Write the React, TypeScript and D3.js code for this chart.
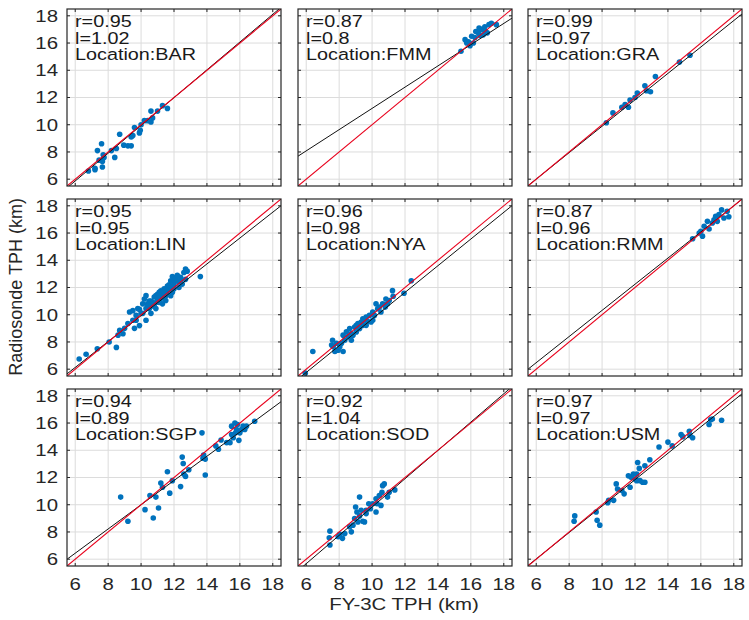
import React, { useRef, useEffect } from 'react';
import * as d3 from 'd3';

// station labels, r and slope text as printed on the figure
const stations = ['BAR', 'FMM', 'GRA', 'LIN', 'NYA', 'RMM', 'SGP', 'SOD', 'USM'];
const rText = ['0.95', '0.87', '0.99', '0.95', '0.96', '0.87', '0.94', '0.92', '0.97'];
const lText = ['1.02', '0.8', '0.97', '0.95', '0.98', '0.96', '0.89', '1.04', '0.97'];

// fitted line (black) per station: slope, intercept
const fitSlope = [1.02, 0.78, 0.97, 0.95, 0.98, 0.96, 0.89, 1.04, 0.97];
const fitIntercept = [-0.25, 3.4, 0.19, 0.43, -0.12, 0.72, 1.1, -0.57, 0.2];

const ticks = [6, 8, 10, 12, 14, 16, 18];

// FY-3C TPH (x) vs radiosonde TPH (y), km
const BAR: [number, number][] = [
  [6.8, 6.6], [7.2, 6.7], [7.2, 6.8], [7.35, 8.1], [7.6, 8.6], [7.65, 6.9], [7.7, 7.8], [7.65, 7.3],
  [7.75, 7.6], [8.4, 7.6], [8.5, 8.25], [8.7, 9.3], [8.95, 8.5], [9.2, 8.45], [9.4, 8.45], [9.5, 9.2],
  [9.6, 9.8], [9.9, 9.4], [9.95, 9.6], [10.0, 10.0], [10.2, 10.3], [10.4, 10.3], [10.6, 11.0], [10.6, 10.2],
  [10.7, 10.5], [11.0, 11.0], [11.3, 11.4], [11.6, 11.2], [9.4, 9.1], [8.2, 8.1], [7.45, 7.4],
];
const FMM: [number, number][] = [
  [15.4, 15.4], [15.65, 16.25], [15.85, 16.1], [15.95, 15.8], [16.05, 16.5], [16.25, 16.4], [16.3, 16.85],
  [16.45, 16.75], [16.55, 16.55], [16.65, 17.0], [16.75, 16.6], [16.85, 17.2], [17.0, 16.75], [17.1, 17.35],
  [17.25, 17.45], [17.55, 17.35], [16.15, 16.0], [15.75, 16.0], [16.5, 17.1], [16.9, 16.85],
];
const GRA: [number, number][] = [
  [10.26, 10.15], [10.66, 10.87], [11.2, 11.28], [11.4, 11.48], [11.6, 11.28], [11.7, 11.82], [12.0, 12.0],
  [12.14, 12.33], [12.6, 12.86], [12.7, 12.5], [12.94, 12.42], [13.24, 13.54], [14.7, 14.6], [15.34, 15.1],
];
const LIN: [number, number][] = [
  [6.24, 6.75], [6.66, 7.1], [7.34, 7.5], [8.06, 8.0], [8.5, 7.6], [8.6, 8.5], [8.7, 8.85], [8.9, 8.6],
  [9.0, 9.0], [9.2, 9.35], [9.3, 10.2], [9.5, 10.3], [9.5, 9.6], [9.7, 9.95], [9.7, 9.6], [9.9, 10.4],
  [10.0, 10.1], [10.1, 10.8], [10.2, 11.15], [10.3, 10.45], [10.4, 10.8], [10.5, 10.45], [10.6, 11.0],
  [10.7, 10.7], [10.8, 11.3], [10.9, 10.9], [11.0, 11.5], [11.1, 11.05], [11.2, 11.75], [11.3, 11.3],
  [11.4, 11.9], [11.5, 11.4], [11.6, 12.1], [11.7, 11.9], [11.8, 12.5], [11.9, 12.1], [12.0, 12.4],
  [12.1, 12.6], [12.3, 12.4], [12.4, 12.75], [12.6, 13.1], [12.7, 13.35], [12.8, 13.2], [13.6, 12.8],
  [10.1, 10.1], [9.8, 10.45], [10.5, 11.0], [10.9, 11.4], [11.3, 10.8], [11.5, 11.05], [11.8, 11.4],
  [11.9, 11.65], [12.3, 12.0], [12.5, 12.25], [11.7, 12.2], [11.1, 11.65], [10.9, 10.45], [10.6, 10.1],
  [10.3, 9.6], [9.9, 9.2], [9.6, 9.0], [10.3, 11.4], [11.9, 12.8], [12.2, 12.9], [12.7, 12.6],
  [10.4, 10.6], [10.7, 10.9], [11.0, 11.2], [11.2, 11.4], [11.4, 11.6], [11.6, 11.8], [11.8, 12.0],
  [12.0, 12.2], [12.2, 12.5], [10.8, 10.6], [11.1, 10.9], [11.4, 11.2], [11.6, 11.5], [12.0, 11.9],
  [12.4, 12.5],
];
const NYA: [number, number][] = [
  [5.94, 5.71], [6.4, 7.3], [7.54, 7.77], [7.6, 8.13], [7.74, 7.3], [7.94, 7.4], [8.04, 7.65], [8.14, 7.9],
  [8.24, 7.3], [8.34, 8.13], [8.44, 8.74], [8.54, 8.38], [8.64, 8.98], [8.74, 8.62], [8.84, 8.5], [8.94, 9.1],
  [9.04, 8.74], [9.14, 9.35], [9.24, 8.98], [9.34, 9.47], [9.44, 9.22], [9.54, 9.59], [9.64, 9.83],
  [9.74, 9.5], [9.84, 9.95], [9.94, 9.47], [10.04, 10.2], [10.14, 9.95], [10.24, 10.8], [10.34, 10.44],
  [10.44, 10.56], [10.64, 10.8], [10.84, 11.16], [10.94, 10.8], [11.04, 11.04], [11.24, 11.77],
  [11.28, 11.36], [11.94, 11.58], [12.38, 12.5], [8.74, 8.13], [9.64, 9.22], [9.44, 9.7], [9.04, 9.22],
  [8.64, 8.38], [7.84, 7.9], [10.04, 9.59], [10.54, 10.2], [8.24, 8.5], [7.64, 7.65], [10.8, 10.56],
];
const RMM: [number, number][] = [
  [15.5, 15.58], [15.9, 16.0], [16.1, 15.77], [16.2, 16.5], [16.4, 16.86], [16.5, 16.3], [16.7, 16.74],
  [16.8, 16.98], [17.0, 16.86], [17.1, 17.35], [17.26, 17.7], [17.4, 17.1], [17.6, 17.6], [17.7, 17.2],
  [16.0, 16.13], [16.9, 17.23],
];
const SGP: [number, number][] = [
  [8.76, 10.56], [9.2, 8.79], [10.24, 9.64], [10.54, 10.68], [10.74, 9.03], [10.9, 10.56], [11.06, 9.76],
  [11.2, 11.6], [11.3, 11.28], [11.6, 12.42], [11.74, 10.85], [11.9, 11.77], [12.4, 11.33], [12.5, 13.5],
  [12.56, 13.03], [12.6, 12.25], [12.7, 12.08], [12.9, 12.57], [13.7, 15.28], [13.76, 13.42], [13.8, 13.64],
  [13.9, 13.35], [13.9, 12.18], [14.54, 14.32], [14.7, 14.07], [14.86, 14.75], [15.2, 14.56], [15.4, 14.56],
  [15.5, 15.77], [15.6, 14.92], [15.7, 16.0], [15.74, 15.28], [15.86, 15.89], [15.94, 14.73], [16.0, 15.28],
  [16.1, 15.52], [16.2, 15.77], [16.3, 15.52], [16.4, 15.77], [16.9, 16.13], [15.5, 15.16], [15.8, 15.53],
];
const SOD: [number, number][] = [
  [7.44, 8.06], [7.4, 7.58], [7.44, 7.04], [7.94, 7.65], [8.04, 7.82], [8.2, 7.53], [8.64, 8.38],
  [8.74, 8.01], [8.94, 8.98], [9.08, 9.47], [9.14, 8.74], [9.24, 10.56], [9.24, 9.18], [9.34, 9.59],
  [9.44, 8.79], [9.54, 8.74], [9.64, 9.35], [9.8, 10.07], [9.9, 9.71], [10.04, 10.07], [10.24, 9.47],
  [10.24, 10.44], [10.3, 10.07], [10.44, 10.68], [10.54, 9.95], [10.6, 10.92], [10.64, 11.4],
  [10.74, 11.53], [10.94, 10.56], [11.04, 10.92], [11.38, 11.09], [9.0, 9.83], [8.84, 8.5], [8.34, 7.89],
  [9.64, 9.59],
];
const USM: [number, number][] = [
  [8.3, 8.79], [8.34, 9.18], [9.64, 9.47], [9.7, 8.86], [9.86, 8.5], [10.34, 10.15], [10.4, 10.32],
  [10.7, 10.32], [10.86, 11.53], [10.94, 11.16], [11.2, 11.04], [11.34, 10.8], [11.6, 12.13], [11.7, 11.28],
  [11.76, 12.01], [11.9, 12.25], [12.0, 11.89], [12.1, 11.77], [12.16, 13.1], [12.26, 12.67], [12.3, 11.77],
  [12.46, 11.65], [12.6, 11.65], [12.6, 12.86], [12.9, 13.3], [13.46, 14.24], [14.0, 14.6], [14.26, 14.32],
  [14.8, 15.16], [14.9, 15.0], [15.3, 15.4], [15.34, 15.09], [15.5, 14.92], [16.5, 15.89], [16.6, 16.25],
  [16.7, 16.3], [17.26, 16.2], [12.1, 12.25],
];

const points = [BAR, FMM, GRA, LIN, NYA, RMM, SGP, SOD, USM];

const App = () => {
  const ref = useRef<SVGSVGElement>(null);

  useEffect(() => {
    const svg = d3.select(ref.current);
    svg.selectAll('*').remove();

    const colLeft = [67, 298, 528];
    const rowTop = [9, 199, 389];
    const w = 214;
    const h = 177;
    const font = 'Liberation Sans, Arial, sans-serif';
    const txt = '#262626';
    const sx = 1.2; // the figure is stretched sideways

    const x = d3.scaleLinear().domain([5.5, 18.5]).range([0, w]);
    const y = d3.scaleLinear().domain([5.5, 18.5]).range([h, 0]);

    stations.forEach((name, i) => {
      const col = i % 3;
      const row = Math.floor(i / 3);
      const g = svg.append('g').attr('transform', `translate(${colLeft[col]},${rowTop[row]})`);

      g.append('clipPath').attr('id', `clip${i}`)
        .append('rect').attr('width', w).attr('height', h);

      // grid
      g.selectAll('.gx').data(ticks).enter().append('line')
        .attr('x1', d => x(d)).attr('x2', d => x(d)).attr('y1', 0).attr('y2', h)
        .attr('stroke', '#dcdcdc').attr('stroke-width', 1);
      g.selectAll('.gy').data(ticks).enter().append('line')
        .attr('y1', d => y(d)).attr('y2', d => y(d)).attr('x1', 0).attr('x2', w)
        .attr('stroke', '#dcdcdc').attr('stroke-width', 1);

      const plot = g.append('g').attr('clip-path', `url(#clip${i})`);

      plot.selectAll('circle').data(points[i]).enter().append('circle')
        .attr('cx', d => x(d[0])).attr('cy', d => y(d[1])).attr('r', 2.8)
        .attr('fill', '#0072BD');

      const line = d3.line<number>().x(d => x(d)).y(d => y(fitSlope[i] * d + fitIntercept[i]));
      plot.append('path').datum([5.5, 18.5]).attr('d', line)
        .attr('stroke', '#111').attr('stroke-width', 1).attr('fill', 'none');
      plot.append('line')
        .attr('x1', x(5.5)).attr('y1', y(5.5)).attr('x2', x(18.5)).attr('y2', y(18.5))
        .attr('stroke', '#e8001c').attr('stroke-width', 1.1);

      // inward ticks
      ticks.forEach(t => {
        g.append('line').attr('x1', x(t)).attr('x2', x(t)).attr('y1', h).attr('y2', h - 3).attr('stroke', txt);
        g.append('line').attr('x1', x(t)).attr('x2', x(t)).attr('y1', 0).attr('y2', 3).attr('stroke', txt);
        g.append('line').attr('y1', y(t)).attr('y2', y(t)).attr('x1', 0).attr('x2', 3).attr('stroke', txt);
        g.append('line').attr('y1', y(t)).attr('y2', y(t)).attr('x1', w).attr('x2', w - 3).attr('stroke', txt);
      });

      g.append('rect').attr('width', w).attr('height', h)
        .attr('fill', 'none').attr('stroke', txt).attr('stroke-width', 1.2);

      // annotation
      [`r=${rText[i]}`, `l=${lText[i]}`, `Location:${name}`].forEach((s, k) => {
        g.append('text')
          .attr('transform', `translate(8,${18 + k * 16.5}) scale(${sx},1)`)
          .attr('font-family', font).attr('font-size', 16.5).attr('fill', '#1a1a1a')
          .text(s);
      });

      if (col === 0) {
        ticks.forEach(t => {
          g.append('text')
            .attr('transform', `translate(-9,${y(t)}) scale(${sx},1)`)
            .attr('text-anchor', 'end').attr('dominant-baseline', 'central')
            .attr('font-family', font).attr('font-size', 17).attr('fill', txt)
            .text(t);
        });
      }
      if (row === 2) {
        ticks.forEach(t => {
          g.append('text')
            .attr('transform', `translate(${x(t)},${h + 24}) scale(${sx},1)`)
            .attr('text-anchor', 'middle')
            .attr('font-family', font).attr('font-size', 17).attr('fill', txt)
            .text(t);
        });
      }
    });

    svg.append('text')
      .attr('transform', `translate(404,610) scale(${sx},1)`)
      .attr('text-anchor', 'middle')
      .attr('font-family', font).attr('font-size', 17).attr('fill', txt)
      .text('FY-3C TPH (km)');

    svg.append('text')
      .attr('transform', 'translate(22,287) rotate(-90)')
      .attr('text-anchor', 'middle')
      .attr('font-family', font).attr('font-size', 18).attr('fill', txt)
      .text('Radiosonde TPH (km)');
  }, []);

  return (
    <svg ref={ref} width={749} height={620}
      style={{ position: 'absolute', left: 0, top: 0, background: '#fff' }} />
  );
};

export default App;
